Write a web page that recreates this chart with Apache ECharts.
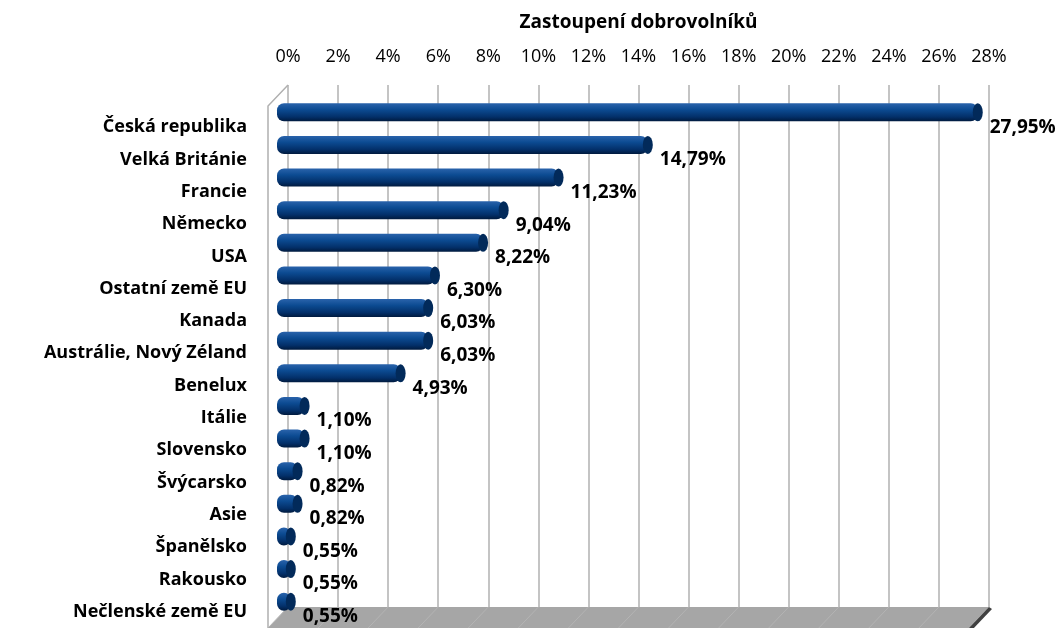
<!DOCTYPE html>
<html>
<head>
<meta charset="utf-8">
<script src="https://cdn.jsdelivr.net/npm/echarts@6/dist/echarts.min.js"></script>
<style>
  html, body { margin: 0; padding: 0; background: #fff; }
  #chart { width: 1063px; height: 628px; }
</style>
</head>
<body>
<div id="chart"></div>
<script>
// data
var countries = ['Česká republika', 'Velká Británie', 'Francie', 'Německo', 'USA',
  'Ostatní země EU', 'Kanada', 'Austrálie, Nový Zéland', 'Benelux', 'Itálie',
  'Slovensko', 'Švýcarsko', 'Asie', 'Španělsko', 'Rakousko', 'Nečlenské země EU'];
var shares = [27.95, 14.79, 11.23, 9.04, 8.22, 6.30, 6.03, 6.03, 4.93, 1.10,
  1.10, 0.82, 0.82, 0.55, 0.55, 0.55];
var axisTitle = 'Zastoupení dobrovolníků';
var axisMin = 0, axisMax = 28, axisStep = 2;

// layout of the fake 3d box
var wallLeft = 288, wallRight = 74, wallTop = 85, wallBottom = 21;
var font = 'Open Sans';

var chart = echarts.init(document.getElementById('chart'));

var fmt = function (v) { return v.toFixed(2).replace('.', ',') + '%'; };

var option = {
  animation: false,
  grid: [
    { left: wallLeft, right: wallRight, top: wallTop, bottom: wallBottom },
    { left: 277, right: 84, top: 96, height: 522 },
    { left: 277, right: 84, top: 111, height: 522 }
  ],
  xAxis: [
    {
      gridIndex: 0, type: 'value', position: 'top',
      min: axisMin, max: axisMax, interval: axisStep,
      name: axisTitle, nameLocation: 'middle', nameGap: 53,
      nameTextStyle: { fontFamily: font, fontWeight: 'bold', fontSize: 19, color: '#000' },
      axisLine: { show: false }, axisTick: { show: false },
      axisLabel: { margin: 19, fontFamily: font, fontSize: 18, color: '#000',
        formatter: '{value}%' },
      splitLine: { lineStyle: { color: '#b0b0b0', width: 1.5 } }
    },
    { gridIndex: 1, type: 'value', min: axisMin, max: axisMax, show: false },
    { gridIndex: 2, type: 'value', min: axisMin, max: axisMax, show: false }
  ],
  yAxis: [
    { gridIndex: 0, type: 'category', data: countries, inverse: true, show: false },
    { gridIndex: 1, type: 'category', data: countries, inverse: true, show: false },
    {
      gridIndex: 2, type: 'category', data: countries, inverse: true,
      axisLine: { show: false }, axisTick: { show: false },
      axisLabel: { margin: 30, fontFamily: font, fontWeight: 'bold', fontSize: 18, color: '#000' }
    }
  ],
  series: [
    {
      type: 'bar', xAxisIndex: 1, yAxisIndex: 1, data: shares, barWidth: 18,
      itemStyle: {
        borderRadius: 7,
        color: new echarts.graphic.LinearGradient(0, 0, 0, 1, [
          { offset: 0, color: '#2a63ab' },
          { offset: 0.35, color: '#0c4b92' },
          { offset: 0.75, color: '#03306a' },
          { offset: 1, color: '#001a3e' }
        ])
      },
      label: {
        show: true, position: 'right', distance: 12, offset: [0, 15],
        fontFamily: font, fontWeight: 'bold', fontSize: 19, color: '#000',
        formatter: function (p) { return fmt(p.value); }
      },
      z: 3
    },
    {
      type: 'scatter', xAxisIndex: 1, yAxisIndex: 1,
      data: shares.map(function (v, i) { return [v, i]; }),
      symbol: 'circle', symbolSize: [10, 18],
      itemStyle: { color: '#022a5a', opacity: 1 },
      silent: true, z: 4
    }
  ]
};
chart.setOption(option);

// wall, floor decoration derived from the wall grid
var x0 = chart.convertToPixel({ xAxisIndex: 0 }, axisMin);
var x1 = chart.convertToPixel({ xAxisIndex: 0 }, axisMax);
var yTop = wallTop, yFloor = 628 - wallBottom;
var dx = -20, dy = 21;
var gfx = [];
gfx.push({ type: 'polygon', shape: { points: [[x0, yFloor], [x1, yFloor], [x1 + dx, yFloor + dy], [x0 + dx, yFloor + dy]] },
  style: { fill: '#a6a6a6' }, z: 1 });
for (var t = axisMin; t <= axisMax; t += axisStep) {
  var xt = chart.convertToPixel({ xAxisIndex: 0 }, t);
  gfx.push({ type: 'line', shape: { x1: xt, y1: yFloor, x2: xt + dx, y2: yFloor + dy },
    style: { stroke: '#b4b4b4', lineWidth: 1 }, z: 1 });
}
gfx.push({ type: 'polygon', shape: { points: [[x1, yFloor], [x1 + 3, yFloor + 2], [x1 + dx + 3, yFloor + dy + 2], [x1 + dx, yFloor + dy]] },
  style: { fill: '#404040' }, z: 1 });
gfx.push({ type: 'polyline', shape: { points: [[x0, yTop], [x0 + dx, yTop + dy], [x0 + dx, yFloor + dy]] },
  style: { stroke: '#b0b0b0', lineWidth: 1.5, fill: null }, z: 1 });
chart.setOption({ graphic: gfx });
</script>
</body>
</html>
